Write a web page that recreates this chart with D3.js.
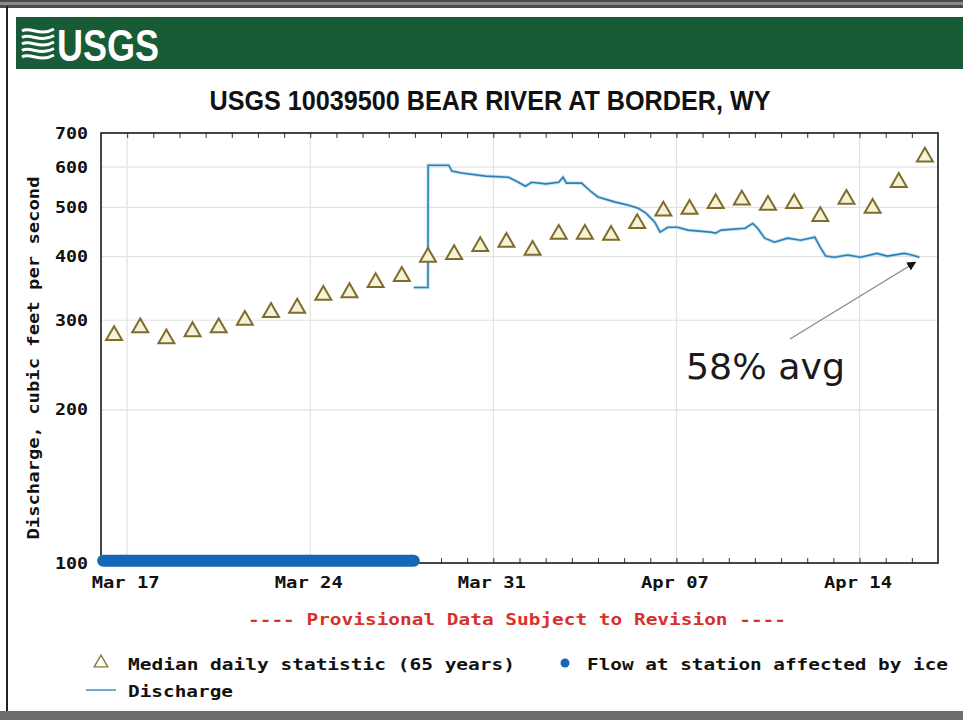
<!DOCTYPE html>
<html><head><meta charset="utf-8">
<script src="https://cdn.jsdelivr.net/npm/d3@7"></script>
<style>
html,body{margin:0;padding:0;background:#fff;}
svg{display:block;}
.mono{font-family:"DejaVu Sans Mono","Liberation Mono",monospace;font-weight:bold;}
</style></head>
<body>
<svg id="chart" width="963" height="720"></svg>
<script>
// ---- data ----
const title = "USGS 10039500 BEAR RIVER AT BORDER, WY";
const yAxisTitle = "Discharge, cubic feet per second";
const provisional = "---- Provisional Data Subject to Revision ----";
const yTicks = [100, 200, 300, 400, 500, 600, 700];
const xTickDates = ["2013-03-17T00:00", "2013-03-24T00:00", "2013-03-31T00:00", "2013-04-07T00:00", "2013-04-14T00:00"];
const xDomain = ["2013-03-16T00:00", "2013-04-17T00:00"];

// Median daily statistic (65 years), plotted at noon of each day
const medianDates = ["2013-03-16","2013-03-17","2013-03-18","2013-03-19","2013-03-20","2013-03-21","2013-03-22","2013-03-23",
  "2013-03-24","2013-03-25","2013-03-26","2013-03-27","2013-03-28","2013-03-29","2013-03-30","2013-03-31",
  "2013-04-01","2013-04-02","2013-04-03","2013-04-04","2013-04-05","2013-04-06","2013-04-07","2013-04-08",
  "2013-04-09","2013-04-10","2013-04-11","2013-04-12","2013-04-13","2013-04-14","2013-04-15","2013-04-16"];
const medianValues = [280, 290, 276, 285, 290, 300, 311, 317,
  336, 340, 356, 366, 399, 404, 419, 427,
  412, 443, 443, 441, 465, 492, 496, 509,
  517, 505, 509, 480, 519, 498, 560, 628];

// Discharge (instantaneous)
const dischargeTimes = ["2013-03-27T23:00","2013-03-28T12:00","2013-03-28T12:10","2013-03-29T07:00","2013-03-29T10:00","2013-03-29T19:00",
  "2013-03-30T17:00","2013-03-31T14:00","2013-03-31T23:00","2013-04-01T05:30","2013-04-01T11:00","2013-04-02T00:00",
  "2013-04-02T12:00","2013-04-02T16:00","2013-04-02T19:00","2013-04-03T09:00","2013-04-03T18:00","2013-04-04T00:00",
  "2013-04-04T16:00","2013-04-05T04:00","2013-04-05T13:00","2013-04-05T20:00","2013-04-06T04:00","2013-04-06T09:00",
  "2013-04-06T16:00","2013-04-07T01:00","2013-04-07T10:30","2013-04-08T07:30","2013-04-08T12:00","2013-04-08T17:00",
  "2013-04-09T15:00","2013-04-09T22:00","2013-04-10T02:30","2013-04-10T09:00","2013-04-10T18:00","2013-04-11T06:00",
  "2013-04-11T18:00","2013-04-12T07:00","2013-04-12T12:00","2013-04-12T17:00","2013-04-13T01:00","2013-04-13T13:00",
  "2013-04-14T01:00","2013-04-14T16:00","2013-04-15T01:30","2013-04-15T17:00","2013-04-15T22:00","2013-04-16T07:00"];
const dischargeValues = [348, 348, 605, 605, 589, 584,
  576, 573, 560, 550, 560, 556,
  560, 573, 558, 558, 536, 524,
  512, 505, 498, 487, 468, 447,
  457, 457, 451, 447, 445, 451,
  455, 465, 455, 435, 427, 435,
  431, 437, 417, 401, 399, 403,
  399, 406, 401, 406, 404, 399];

// Flow at station affected by ice (plotted along the bottom)
const iceTimes = ["2013-03-16T02:00", "2013-03-27T23:00"];
const iceValues = [101, 101];

const legendItems = ["Median daily statistic (65 years)", "Flow at station affected by ice", "Discharge"];
const annotation = "58% avg";

// ---- drawing ----
const parse = d3.utcParse("%Y-%m-%dT%H:%M");
const svg = d3.select("#chart");

// outer frame
svg.append("rect").attr("x",0).attr("y",0).attr("width",963).attr("height",8).attr("fill","#4a4a4a");
svg.append("rect").attr("x",0).attr("y",2).attr("width",963).attr("height",3).attr("fill","#8a8a8a");
svg.append("rect").attr("x",6).attr("y",6).attr("width",2).attr("height",708).attr("fill","#222");
svg.append("rect").attr("x",0).attr("y",711).attr("width",963).attr("height",9).attr("fill","#6d6d6d");

// header banner
svg.append("rect").attr("x",16).attr("y",17).attr("width",947).attr("height",52).attr("fill","#185c37");
const logo = svg.append("g");
[0,1,2,3,4].forEach(i=>{
  logo.append("path")
    .attr("d",`M22,${31+i*6.5} C30,${26+i*6.5} 40,${37+i*6.5} 54,${29+i*6.5}`)
    .attr("fill","none").attr("stroke","#fff").attr("stroke-width",3);
});
svg.append("text").attr("x",57).attr("y",61)
  .attr("font-family","'Liberation Sans Narrow','Arial Narrow','Liberation Sans',sans-serif")
  .attr("font-weight","bold").attr("font-size",44).attr("fill","#fff")
  .attr("textLength",102).attr("lengthAdjust","spacingAndGlyphs").text("USGS");

// title
svg.append("text").attr("x",490).attr("y",110).attr("text-anchor","middle")
  .attr("font-family","'Liberation Sans Narrow','Arial Narrow','Liberation Sans',sans-serif")
  .attr("font-weight","bold").attr("font-size",28).attr("fill","#111")
  .attr("textLength",561).attr("lengthAdjust","spacingAndGlyphs").text(title);

const pL=101, pR=938, pT=133, pB=563;
const x = d3.scaleUtc().domain(xDomain.map(parse)).range([pL,pR]);
const y = d3.scaleLog().domain([100,700]).range([pB,pT]);

const g = svg.append("g");
// gridlines
g.selectAll(".hg").data(yTicks.filter(v=>v>100 && v<700)).join("line")
  .attr("x1",pL).attr("x2",pR).attr("y1",d=>y(d)).attr("y2",d=>y(d))
  .attr("stroke","#e2e2e2").attr("stroke-width",1.2);
g.selectAll(".vg").data(xTickDates.map(parse)).join("line")
  .attr("x1",d=>x(d)).attr("x2",d=>x(d)).attr("y1",pT).attr("y2",pB)
  .attr("stroke","#e2e2e2").attr("stroke-width",1.2);

// minor day ticks (bottom & top)
const dayTicks = d3.utcDay.range(...xDomain.map(parse)).slice(1);
const axB = g.append("g").attr("transform",`translate(0,${pB})`)
  .call(d3.axisBottom(x).tickValues(dayTicks).tickSize(-5).tickFormat(""));
const axT = g.append("g").attr("transform",`translate(0,${pT})`)
  .call(d3.axisTop(x).tickValues(dayTicks).tickSize(-5).tickFormat(""));
[axB,axT].forEach(a=>{a.select(".domain").remove(); a.selectAll("line").attr("stroke","#333");});

// x tick labels
const fmt = d3.utcFormat("%b %d");
const axX = g.append("g").attr("transform",`translate(0,${pB})`)
  .call(d3.axisBottom(x).tickValues(xTickDates.map(parse)).tickSize(0).tickPadding(14).tickFormat(fmt));
axX.select(".domain").remove();
axX.selectAll("text").attr("class","mono").attr("font-size",16).attr("fill","#111")
  .attr("dx",-2).attr("textLength",68).attr("lengthAdjust","spacingAndGlyphs");

// y tick labels
const axY = g.append("g").attr("transform",`translate(${pL},0)`)
  .call(d3.axisLeft(y).tickValues(yTicks).tickSize(0).tickPadding(13).tickFormat(d3.format("d")));
axY.select(".domain").remove();
axY.selectAll("text").attr("class","mono").attr("font-size",16).attr("fill","#111")
  .attr("textLength",33).attr("lengthAdjust","spacingAndGlyphs");

// y axis title
svg.append("text").attr("class","mono").attr("font-size",16).attr("fill","#111")
  .attr("transform","translate(39,358) rotate(-90)").attr("text-anchor","middle")
  .attr("textLength",363).attr("lengthAdjust","spacingAndGlyphs").text(yAxisTitle);

// discharge
const dLine = d3.line().x(d=>x(d[0])).y(d=>y(d[1]));
g.append("path").datum(dischargeTimes.map((t,i)=>[parse(t),dischargeValues[i]]))
  .attr("d",dLine).attr("fill","none").attr("stroke","#9fd0ea").attr("stroke-width",3.5).attr("opacity",0.6);
g.append("path").datum(dischargeTimes.map((t,i)=>[parse(t),dischargeValues[i]]))
  .attr("d",dLine).attr("fill","none").attr("stroke","#2f7fb5").attr("stroke-width",1.6);

// median triangles
const tri = d3.symbol().type(d3.symbolTriangle).size(110);
g.selectAll(".tri").data(medianDates.map((d,i)=>[parse(d+"T12:00"),medianValues[i]])).join("path")
  .attr("d",tri).attr("transform",d=>`translate(${x(d[0])},${y(d[1])})`)
  .attr("fill","#f7f2d6").attr("stroke","#7d6c2c").attr("stroke-width",2);

// plot frame
g.append("rect").attr("x",pL).attr("y",pT).attr("width",pR-pL).attr("height",pB-pT)
  .attr("fill","none").attr("stroke","#1a1a1a").attr("stroke-width",1.6);

// ice flow (drawn over frame)
const iceLine = d3.line().x(d=>x(d[0])).y(d=>y(d[1]));
g.append("path").datum(iceTimes.map((t,i)=>[parse(t),iceValues[i]]))
  .attr("d",iceLine).attr("fill","none").attr("stroke","#1568b8")
  .attr("stroke-width",12).attr("stroke-linecap","round");

// annotation
const defs = svg.append("defs");
defs.append("marker").attr("id","ah").attr("viewBox","0 0 10 10").attr("refX",9).attr("refY",5)
  .attr("markerWidth",7).attr("markerHeight",7).attr("orient","auto-start-reverse")
  .append("path").attr("d","M0,0 L10,5 L0,10 z").attr("fill","#111");
const lastT = parse(dischargeTimes[dischargeTimes.length-1]);
const lastV = dischargeValues[dischargeValues.length-1];
svg.append("line").attr("x1",790).attr("y1",339).attr("x2",x(lastT)-4).attr("y2",y(lastV)+5)
  .attr("stroke","#888").attr("stroke-width",1.3).attr("marker-end","url(#ah)");
svg.append("text").attr("x",686).attr("y",379)
  .attr("font-family","'DejaVu Sans',Verdana,sans-serif").attr("font-size",35).attr("fill","#1a1a1a")
  .attr("textLength",159).attr("lengthAdjust","spacingAndGlyphs").text(annotation);

// provisional note
svg.append("text").attr("class","mono").attr("x",517).attr("y",625).attr("text-anchor","middle")
  .attr("font-size",16).attr("fill","#d9302a")
  .attr("textLength",538).attr("lengthAdjust","spacingAndGlyphs").text(provisional);

// legend
const lg = svg.append("g");
lg.append("path").attr("d",d3.symbol().type(d3.symbolTriangle).size(80)())
  .attr("transform","translate(101,663)").attr("fill","#fff").attr("stroke","#8a7a3a").attr("stroke-width",1.4);
lg.append("text").attr("class","mono").attr("x",128).attr("y",670).attr("font-size",16).attr("fill","#111")
  .attr("textLength",387).attr("lengthAdjust","spacingAndGlyphs").text(legendItems[0]);
lg.append("circle").attr("cx",565).attr("cy",663).attr("r",4.5).attr("fill","#1568b8");
lg.append("text").attr("class","mono").attr("x",587).attr("y",670).attr("font-size",16).attr("fill","#111")
  .attr("textLength",361).attr("lengthAdjust","spacingAndGlyphs").text(legendItems[1]);
lg.append("line").attr("x1",86).attr("x2",116).attr("y1",690).attr("y2",690).attr("stroke","#4a95c4").attr("stroke-width",1.6);
lg.append("text").attr("class","mono").attr("x",128).attr("y",697).attr("font-size",16).attr("fill","#111")
  .attr("textLength",105).attr("lengthAdjust","spacingAndGlyphs").text(legendItems[2]);
</script>
</body></html>
